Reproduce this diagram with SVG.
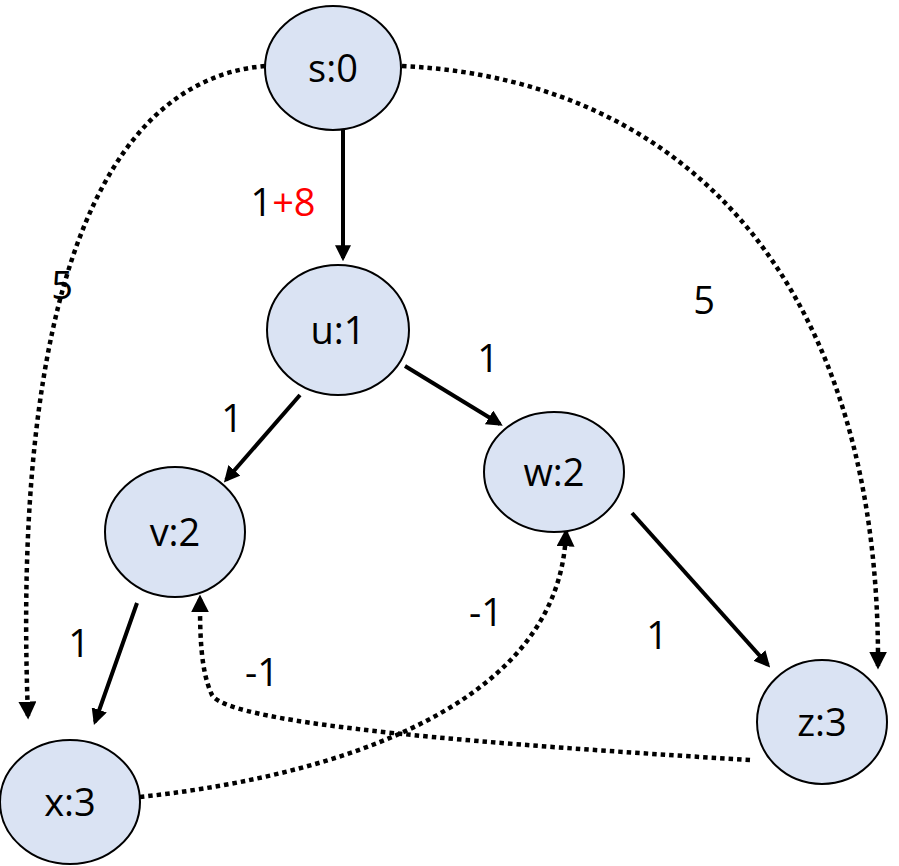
<svg xmlns="http://www.w3.org/2000/svg" width="899" height="866" viewBox="0 0 899 866">
<style>
.n{fill:#dae3f3;stroke:#000;stroke-width:2}
.t{font-family:"Open Sans","Liberation Sans",sans-serif;font-size:38px;fill:#000}
.s{fill:none;stroke:#000;stroke-width:4;marker-end:url(#a)}
.d{fill:none;stroke:#000;stroke-width:4.5;stroke-dasharray:4.5 4;marker-end:url(#a)}
</style>
<defs><marker id="a" viewBox="0 0 10 10" refX="8" refY="5" markerWidth="4" markerHeight="4" orient="auto" markerUnits="strokeWidth"><path d="M0,0L10,5L0,10z" fill="#000"/></marker></defs>
<rect width="899" height="866" fill="#fff"/>
<g id="connectors">
<path class="s" d="M343,128L343,258"/>
<path class="s" d="M300,395L226,480"/>
<path class="s" d="M405,366L500,424"/>
<path class="s" d="M137,603L95,722"/>
<path class="s" d="M632,513L768,665"/>
<path class="d" d="M265,66C100,80 12,300 28,716"/>
<path class="d" d="M402,66C700,80 880,300 878,666"/>
<path class="d" d="M750,760C500,745 230,725 212,695C200,670 200,630 200,598"/>
<path class="d" d="M140,797C300,780 560,720 566,532"/>
</g>
<g id="s"><ellipse class="n" cx="333" cy="68" rx="68" ry="62"/><text class="t" x="333" y="82" text-anchor="middle">s:0</text></g>
<g id="u"><ellipse class="n" cx="338" cy="330" rx="71" ry="65"/><text class="t" x="338" y="344" text-anchor="middle">u:1</text></g>
<g id="w"><ellipse class="n" cx="554" cy="472" rx="70" ry="60"/><text class="t" x="554" y="486" text-anchor="middle">w:2</text></g>
<g id="v"><ellipse class="n" cx="175" cy="532" rx="70" ry="65"/><text class="t" x="175" y="546" text-anchor="middle">v:2</text></g>
<g id="z"><ellipse class="n" cx="822" cy="722" rx="65" ry="62"/><text class="t" x="822" y="736" text-anchor="middle">z:3</text></g>
<g id="x"><ellipse class="n" cx="70" cy="802" rx="70" ry="62"/><text class="t" x="70" y="816" text-anchor="middle">x:3</text></g>
<g id="labels">
<text class="t" x="283" y="216" text-anchor="middle">1<tspan fill="#f00">+8</tspan></text>
<text class="t" x="62" y="299" text-anchor="middle">5</text>
<text class="t" x="704" y="314" text-anchor="middle">5</text>
<text class="t" x="488" y="372" text-anchor="middle">1</text>
<text class="t" x="232" y="432" text-anchor="middle">1</text>
<text class="t" x="79" y="657" text-anchor="middle">1</text>
<text class="t" x="262" y="686" text-anchor="middle">-1</text>
<text class="t" x="486" y="626" text-anchor="middle">-1</text>
<text class="t" x="657" y="649" text-anchor="middle">1</text>
</g>
</svg>
